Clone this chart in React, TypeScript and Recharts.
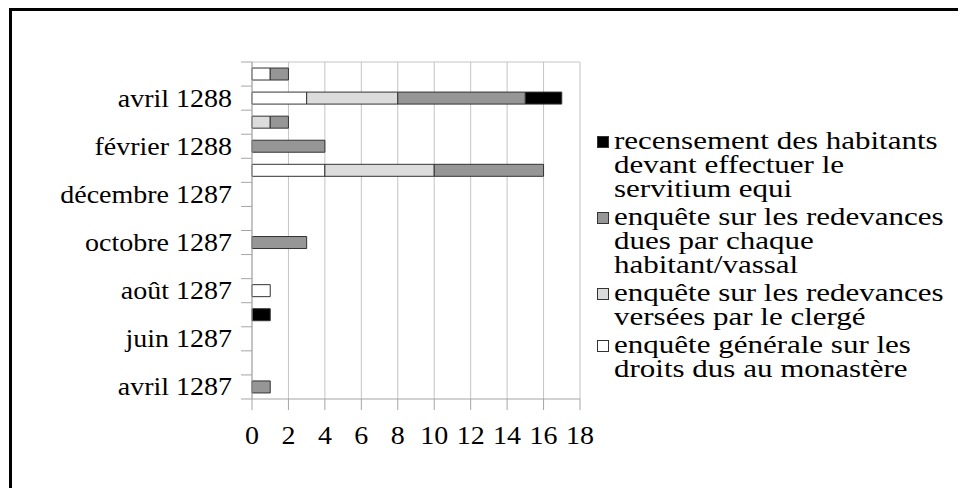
import React from 'react';
import { BarChart, Bar, XAxis, YAxis, CartesianGrid, Legend } from 'recharts';

const months = [
  'avril 1287', 'mai 1287', 'juin 1287', 'juillet 1287', 'août 1287', 'septembre 1287',
  'octobre 1287', 'novembre 1287', 'décembre 1287', 'janvier 1288', 'février 1288',
  'mars 1288', 'avril 1288', 'mai 1288',
];
const generale = [null, null, null, null, 1, null, null, null, null, 4, null, null, 3, 1];
const clerge = [null, null, null, null, null, null, null, null, null, 6, null, 1, 5, null];
const vassal = [1, null, null, null, null, null, 3, null, null, 6, 4, 1, 7, 1];
const recensement = [null, null, null, 1, null, null, null, null, null, null, null, null, 2, null];

const seriesKeys = ['generale', 'clerge', 'vassal', 'recensement'];
const seriesNames = [
  'enquête générale sur les droits dus au monastère',
  'enquête sur les redevances versées par le clergé',
  'enquête sur les redevances dues par chaque habitant/vassal',
  'recensement des habitants devant effectuer le servitium equi',
];
const seriesColors = ['#ffffff', '#dcdcdc', '#969696', '#000000'];
const xTicks = [0, 2, 4, 6, 8, 10, 12, 14, 16, 18];

const data = months.map((m, i) => ({
  month: m,
  generale: generale[i],
  clerge: clerge[i],
  vassal: vassal[i],
  recensement: recensement[i],
}));

const FONT = 'Liberation Serif, Tinos, Times New Roman, Times, DejaVu Serif, serif';
const FS = 25;
const SX = 1.12;
const SX_L = 1.24;
const AXIS = '#a6a6a6';
const GRID = '#c4c4c4';
const W = 958;
const H = 480;
const M = { top: 54, right: 386, bottom: 29, left: 4 };
const Y_W = 240;
const X_H = 60;
const PLOT_H = H - M.top - M.bottom - X_H;
const BAND = PLOT_H / months.length;
const TICK_SIZE = 11;
const TICK_MARGIN = 9;

const YTick = (props: any) => {
  const { x, y, payload } = props;
  const idx = months.indexOf(payload.value);
  const x1 = x + TICK_MARGIN;
  const x2 = x1 + TICK_SIZE;
  const half = BAND / 2;
  return (
    <g>
      <line x1={x1} x2={x2} y1={y + half} y2={y + half} stroke={AXIS} strokeWidth={1} />
      {idx === months.length - 1 && (
        <line x1={x1} x2={x2} y1={y - half} y2={y - half} stroke={AXIS} strokeWidth={1} />
      )}
      {idx % 2 === 0 && (
        <text
          transform={`translate(${x},${y}) scale(${SX},1)`}
          x={0}
          y={0}
          textAnchor="end"
          dominantBaseline="central"
          fontFamily={FONT}
          fontSize={FS}
          fill="#000"
        >
          {payload.value}
        </text>
      )}
    </g>
  );
};

const XTick = (props: any) => {
  const { x, y, payload } = props;
  return (
    <text
      transform={`translate(${x},${y}) scale(${SX},1)`}
      x={0}
      y={0}
      dy="0.71em"
      textAnchor="middle"
      fontFamily={FONT}
      fontSize={FS}
      fill="#000"
    >
      {payload.value}
    </text>
  );
};

const renderLegend = () => {
  const order = [3, 2, 1, 0];
  return (
    <div style={{ fontFamily: FONT, fontSize: FS, lineHeight: '24px', color: '#000' }}>
      {order.map((i) => (
        <div key={seriesKeys[i]} style={{ display: 'flex', alignItems: 'flex-start', marginBottom: 4 }}>
          <div
            style={{
              width: 10,
              height: 10,
              marginTop: 7,
              marginRight: 5,
              background: seriesColors[i],
              border: '1px solid #333',
              flex: 'none',
            }}
          />
          <div style={{ width: 270, transform: `scaleX(${SX_L})`, transformOrigin: 'left top' }}>
            {seriesNames[i]}
          </div>
        </div>
      ))}
    </div>
  );
};

export default function App() {
  return (
    <div style={{ position: 'relative', width: W, height: H }}>
      <BarChart
        width={W}
        height={H}
        data={data}
        layout="vertical"
        margin={M}
        barCategoryGap="25%"
      >
        <CartesianGrid
          stroke={GRID}
          vertical={true}
          horizontal={true}
          horizontalCoordinatesGenerator={({ offset }: any) => [offset.top]}
        />
        <XAxis
          type="number"
          domain={[0, 18]}
          ticks={xTicks}
          interval={0}
          height={X_H}
          tickSize={11}
          tickMargin={16}
          stroke={AXIS}
          tick={<XTick />}
        />
        <YAxis
          type="category"
          dataKey="month"
          reversed
          width={Y_W}
          interval={0}
          tickLine={false}
          tickSize={TICK_SIZE}
          tickMargin={TICK_MARGIN}
          stroke={AXIS}
          tick={<YTick />}
        />
        <Legend
          layout="vertical"
          align="center"
          verticalAlign="middle"
          wrapperStyle={{ left: 589, top: 121, width: 370 }}
          content={renderLegend}
        />
        {seriesKeys.map((k, i) => (
          <Bar
            key={k}
            dataKey={k}
            name={seriesNames[i]}
            stackId="a"
            fill={seriesColors[i]}
            stroke="#333"
            strokeWidth={1}
            isAnimationActive={false}
          />
        ))}
      </BarChart>
      <div
        style={{
          position: 'absolute',
          left: 1,
          top: 0,
          width: W + 20,
          height: H + 20,
          borderTop: '3px solid #000',
          borderLeft: '3px solid #000',
          pointerEvents: 'none',
        }}
      />
    </div>
  );
}
